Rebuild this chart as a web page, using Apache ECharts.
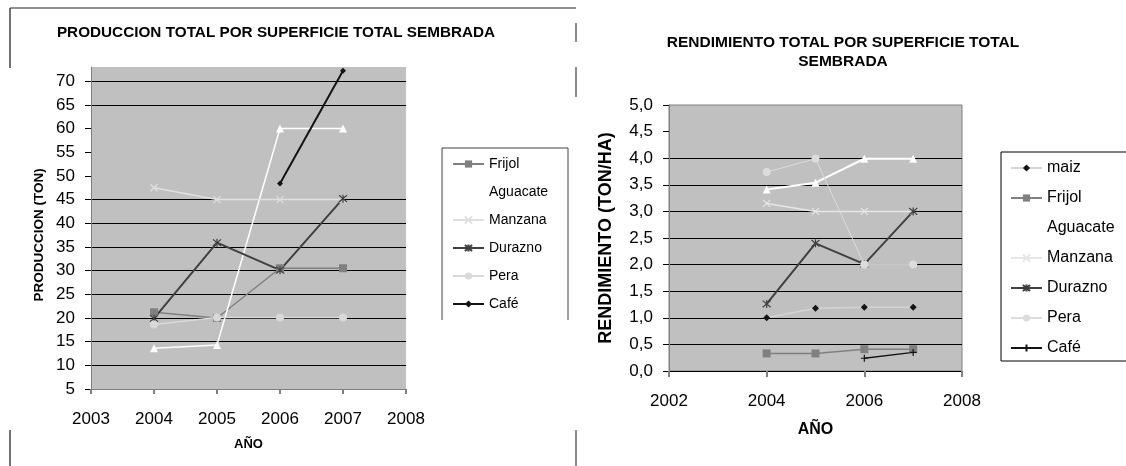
<!DOCTYPE html>
<html>
<head>
<meta charset="utf-8">
<script src="https://cdn.jsdelivr.net/npm/echarts@6/dist/echarts.min.js"></script>
<style>html,body{margin:0;padding:0;background:#fff;}#c{width:1126px;height:466px;}</style>
</head>
<body>
<div id="c"></div>
<script>
// ---- data ----
const years = [2004, 2005, 2006, 2007];

// Left chart: PRODUCCION (TON)
const prodFrijol   = [21.2, 20.0, 30.5, 30.5];
const prodAguacate = [13.6, 14.3, 60.0, 60.0];
const prodManzana  = [47.5, 45.0, 45.0, 45.0];
const prodDurazno  = [19.9, 35.9, 30.1, 45.2];
const prodPera     = [18.6, 20.1, 20.1, 20.1];
const prodCafe     = [null, null, 48.4, 72.2];
const prodGridLines = [10, 15, 20, 25, 30, 35, 40, 45, 65, 70];

// Right chart: RENDIMIENTO (TON/HA)
const rendMaiz     = [1.00, 1.18, 1.20, 1.20];
const rendFrijol   = [0.33, 0.33, 0.41, 0.41];
const rendAguacate = [3.41, 3.54, 3.99, 3.99];
const rendManzana  = [3.15, 3.00, 3.00, 3.00];
const rendDurazno  = [1.26, 2.40, 2.01, 3.00];
const rendPera     = [3.74, 3.99, 2.00, 2.00];
const rendCafe     = [null, null, 0.24, 0.35];
const rendGridLines = [0.5, 1, 1.5, 2, 2.5, 3, 3.5, 4];

// ---- helpers ----
const FONT = "'Liberation Sans', Arial, sans-serif";
function pairs(vals) {
  const out = [];
  vals.forEach((v, i) => { if (v !== null) out.push([years[i], v]); });
  return out;
}
// one colour per split line (ticks from min by interval, plus max): black where the reference shows a grid line
function splitColors(min, max, interval, lines) {
  const cols = [];
  let last = min;
  for (let k = 0; min + k * interval <= max + 1e-9; k++) {
    const v = +(min + k * interval).toFixed(6);
    last = v;
    cols.push(lines.some(g => Math.abs(g - v) < 1e-6) ? '#000000' : 'rgba(0,0,0,0)');
  }
  if (last < max - 1e-9) cols.push('rgba(0,0,0,0)');
  return cols;
}
const SYM_X = 'path://M0,0L10,10M10,0L0,10';
const SYM_AST = 'path://M0,0L10,10M10,0L0,10M5,-1L5,11';
const SYM_PLUS = 'path://M5,0L5,10M0,5L10,5';

function lineSeries(name, data, xi, color, lw, symbol, size, symColor, stroke) {
  return {
    name: name, type: 'line', xAxisIndex: xi, yAxisIndex: xi,
    data: pairs(data), symbol: symbol, symbolSize: size,
    lineStyle: { color: color, width: lw },
    itemStyle: stroke ? { color: 'rgba(0,0,0,0)', borderColor: symColor, borderWidth: 1.2 }
                      : { color: symColor, borderWidth: 0 },
    z: 3, animation: false, connectNulls: false
  };
}

const chart = echarts.init(document.getElementById('c'), null, { renderer: 'canvas' });

const option = {
  animation: false,
  textStyle: { fontFamily: FONT },
  grid: [
    { left: 91, right: 720, top: 67, bottom: 77, show: true, backgroundColor: '#c0c0c0', borderWidth: 0 },
    { left: 669, right: 164, top: 105, bottom: 95, show: true, backgroundColor: '#c0c0c0', borderColor: '#808080', borderWidth: 1 }
  ],
  xAxis: [
    {
      type: 'value', gridIndex: 0, min: 2003, max: 2008, interval: 1,
      name: 'AÑO', nameLocation: 'middle', nameGap: 49,
      nameTextStyle: { fontFamily: FONT, fontSize: 13, fontWeight: 'bold', color: '#000' },
      axisLine: { show: true, lineStyle: { color: '#808080', width: 1 } },
      axisTick: { show: true, length: 5, lineStyle: { color: '#808080', width: 2 } },
      axisLabel: { margin: 22, fontSize: 17, color: '#000', fontFamily: FONT, formatter: v => String(v) },
      splitLine: { show: false }
    },
    {
      type: 'value', gridIndex: 1, min: 2002, max: 2008, interval: 2,
      name: 'AÑO', nameLocation: 'middle', nameGap: 51,
      nameTextStyle: { fontFamily: FONT, fontSize: 16, fontWeight: 'bold', color: '#000' },
      axisLine: { show: true, lineStyle: { color: '#000', width: 1 } },
      axisTick: { show: true, length: 6, lineStyle: { color: '#808080', width: 2 } },
      axisLabel: { margin: 22, fontSize: 17, color: '#000', fontFamily: FONT, formatter: v => String(v) },
      splitLine: { show: false }
    }
  ],
  yAxis: [
    {
      type: 'value', gridIndex: 0, min: 5, max: 73, interval: 5,
      name: 'PRODUCCION (TON)', nameLocation: 'middle', nameGap: 45,
      nameTextStyle: { fontFamily: FONT, fontSize: 13.5, fontWeight: 'bold', color: '#000', padding: [0, 14, 0, 0] },
      axisLine: { show: true, lineStyle: { color: '#808080', width: 1 } },
      axisTick: { show: true, length: 6, lineStyle: { color: '#000', width: 1 } },
      axisLabel: { margin: 16, fontSize: 17, color: '#000', fontFamily: FONT, showMaxLabel: false, formatter: v => (v % 5 === 0 ? String(v) : '') },
      splitLine: { show: true, lineStyle: { color: splitColors(5, 73, 5, prodGridLines), width: 1, type: 'solid' } }
    },
    {
      type: 'value', gridIndex: 1, min: 0, max: 5, interval: 0.5,
      name: 'RENDIMIENTO (TON/HA)', nameLocation: 'middle', nameGap: 54,
      nameTextStyle: { fontFamily: FONT, fontSize: 18, fontWeight: 'bold', color: '#000' },
      axisLine: { show: true, lineStyle: { color: '#808080', width: 1 } },
      axisTick: { show: true, length: 6, lineStyle: { color: '#000', width: 1 } },
      axisLabel: { margin: 16, fontSize: 17, color: '#000', fontFamily: FONT, formatter: v => v.toFixed(1).replace('.', ',') },
      splitLine: { show: true, lineStyle: { color: splitColors(0, 5, 0.5, rendGridLines), width: 1, type: 'solid' } }
    }
  ],
  legend: [
    {
      orient: 'vertical', left: 452, top: 157, padding: 0, itemGap: 14, itemWidth: 31, itemHeight: 9,
      textStyle: { fontFamily: FONT, fontSize: 14, color: '#000' },
      data: ['Frijol', 'Aguacate', 'Manzana', 'Durazno', 'Pera', 'Café'],
      selectedMode: false
    },
    {
      orient: 'vertical', left: 1010, top: 160, padding: 0, itemGap: 14, itemWidth: 31, itemHeight: 9,
      textStyle: { fontFamily: FONT, fontSize: 16, color: '#000' },
      data: ['maiz', 'Frijol ', 'Aguacate ', 'Manzana ', 'Durazno ', 'Pera ', 'Café '],
      selectedMode: false
    }
  ],
  graphic: [
    { type: 'text', x: 276, y: 33, style: { text: 'PRODUCCION TOTAL POR SUPERFICIE TOTAL SEMBRADA', font: 'bold 15.3px ' + FONT, fill: '#000', align: 'center', verticalAlign: 'middle' } },
    { type: 'text', x: 843, y: 43, style: { text: 'RENDIMIENTO TOTAL POR SUPERFICIE TOTAL', font: 'bold 15.5px ' + FONT, fill: '#000', align: 'center', verticalAlign: 'middle' } },
    { type: 'text', x: 843, y: 62, style: { text: 'SEMBRADA', font: 'bold 15.5px ' + FONT, fill: '#000', align: 'center', verticalAlign: 'middle' } },
    { type: 'polyline', shape: { points: [[442, 320], [442, 148], [568, 148], [568, 320]] }, style: { stroke: '#404040', lineWidth: 1, fill: null }, silent: true },
    { type: 'rect', shape: { x: 1001, y: 152, width: 140, height: 209 }, style: { stroke: '#000', lineWidth: 1, fill: null }, silent: true },
    { type: 'line', shape: { x1: 10, y1: 8, x2: 576, y2: 8 }, style: { stroke: '#222', lineWidth: 1 }, silent: true },
    { type: 'line', shape: { x1: 10, y1: 8, x2: 10, y2: 68 }, style: { stroke: '#444', lineWidth: 1.5 }, silent: true },
    { type: 'line', shape: { x1: 10, y1: 430, x2: 10, y2: 466 }, style: { stroke: '#444', lineWidth: 1.5 }, silent: true },
    { type: 'line', shape: { x1: 576, y1: 23, x2: 576, y2: 42 }, style: { stroke: '#666', lineWidth: 1.5 }, silent: true },
    { type: 'line', shape: { x1: 576, y1: 67, x2: 576, y2: 97 }, style: { stroke: '#666', lineWidth: 1.5 }, silent: true },
    { type: 'line', shape: { x1: 576, y1: 430, x2: 576, y2: 466 }, style: { stroke: '#666', lineWidth: 1.5 }, silent: true }
  ],
  series: [
    lineSeries('Frijol', prodFrijol, 0, '#808080', 1.5, 'rect', 8, '#808080', false),
    lineSeries('Aguacate', prodAguacate, 0, '#ffffff', 1.5, 'triangle', 8, '#ffffff', false),
    lineSeries('Manzana', prodManzana, 0, '#e0e0e0', 1.5, SYM_X, 7, '#e0e0e0', true),
    lineSeries('Durazno', prodDurazno, 0, '#404040', 2, SYM_AST, 8, '#404040', true),
    lineSeries('Pera', prodPera, 0, '#d9d9d9', 1.5, 'circle', 8, '#d9d9d9', false),
    lineSeries('Café', prodCafe, 0, '#141414', 2, 'diamond', 6, '#141414', false),

    lineSeries('maiz', rendMaiz, 1, '#d4d4d4', 1.5, 'diamond', 7, '#141414', false),
    lineSeries('Frijol ', rendFrijol, 1, '#808080', 1.5, 'rect', 8, '#808080', false),
    lineSeries('Aguacate ', rendAguacate, 1, '#ffffff', 2, 'triangle', 8, '#ffffff', false),
    lineSeries('Manzana ', rendManzana, 1, '#e6e6e6', 1.5, SYM_X, 7, '#e6e6e6', true),
    lineSeries('Durazno ', rendDurazno, 1, '#404040', 2, SYM_AST, 8, '#404040', true),
    lineSeries('Pera ', rendPera, 1, '#dcdcdc', 1, 'circle', 8, '#dcdcdc', false),
    lineSeries('Café ', rendCafe, 1, '#141414', 1.5, SYM_PLUS, 7, '#141414', true)
  ]
};
chart.setOption(option);
</script>
</body>
</html>
